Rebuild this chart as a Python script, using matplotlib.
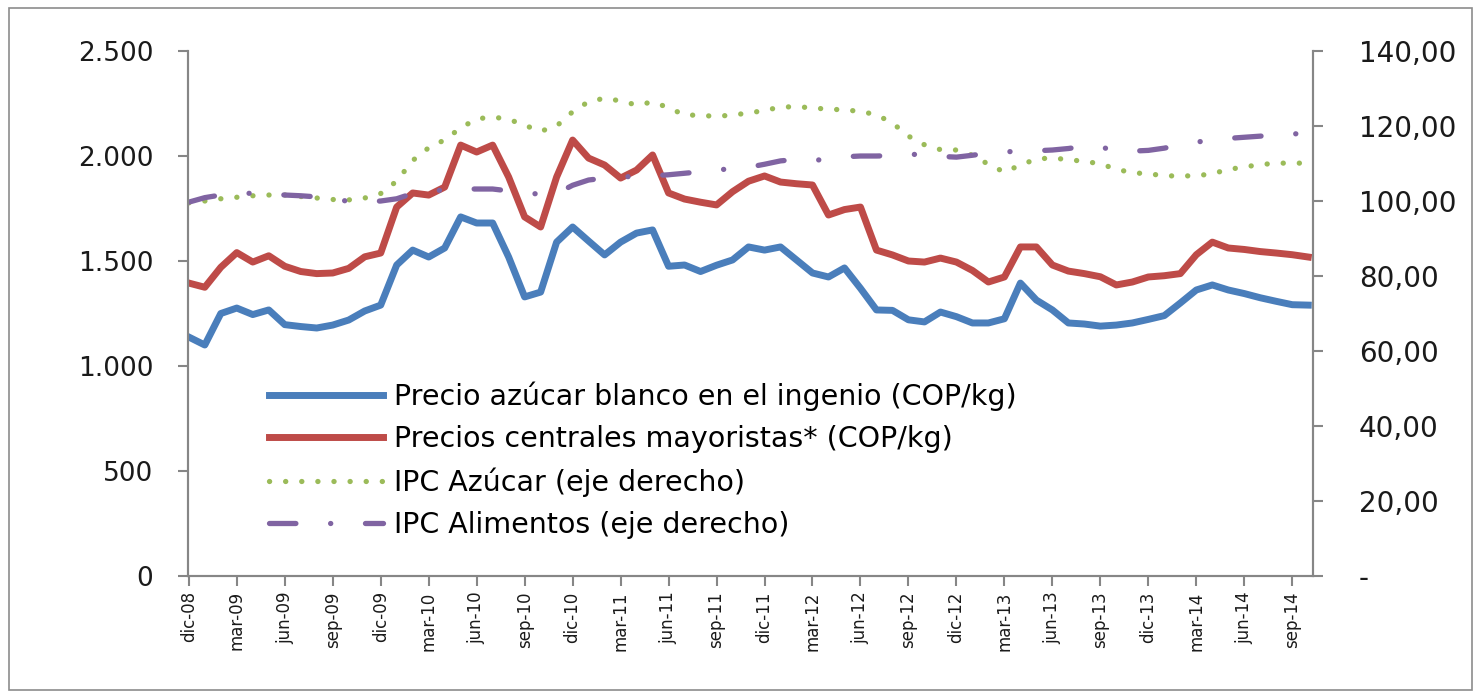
import matplotlib.pyplot as plt
from matplotlib.patches import Rectangle

# monthly series dic-08 .. oct-14
precio_ingenio = [1138, 1100, 1250, 1276, 1245, 1267, 1197, 1188, 1181, 1195, 1219, 1262,
                  1290, 1481, 1552, 1519, 1562, 1710, 1681, 1681, 1519, 1329, 1352, 1590,
                  1662, 1595, 1529, 1590, 1633, 1648, 1475, 1481, 1450, 1480, 1505, 1567,
                  1552, 1567, 1505, 1443, 1424, 1467, 1370, 1267, 1265, 1220, 1210, 1257,
                  1235, 1205, 1205, 1225, 1395, 1314, 1267, 1205, 1200, 1190, 1195, 1205,
                  1222, 1240, 1300, 1362, 1386, 1362, 1345, 1325, 1308, 1292, 1290]
precio_mayoristas = [1395, 1375, 1470, 1540, 1495, 1525, 1475, 1450, 1440, 1443, 1465, 1520,
                     1538, 1757, 1824, 1814, 1852, 2052, 2019, 2052, 1900, 1710, 1662, 1900,
                     2076, 1990, 1957, 1895, 1933, 2005, 1824, 1795, 1780, 1767, 1830, 1880,
                     1905, 1876, 1868, 1862, 1719, 1745, 1757, 1552, 1529, 1500, 1495, 1514,
                     1495, 1455, 1400, 1424, 1567, 1567, 1481, 1452, 1440, 1425, 1386, 1400,
                     1424, 1430, 1440, 1530, 1590, 1562, 1555, 1545, 1538, 1530, 1519]
ipc_azucar = [99.5, 100.0, 100.6, 101.0, 101.4, 101.6, 101.6, 101.2, 100.8, 100.4, 100.3, 100.8,
              102.0, 105.3, 110.8, 114.2, 116.3, 119.5, 121.9, 122.4, 121.8, 120.2, 118.6, 120.0,
              123.8, 126.5, 127.4, 126.7, 125.6, 126.4, 124.9, 122.9, 122.9, 122.5, 123.0, 123.4,
              124.2, 125.0, 125.2, 124.8, 124.5, 124.3, 123.9, 123.0, 120.8, 117.3, 115.0, 113.7,
              113.6, 112.2, 109.8, 107.7, 109.6, 111.2, 111.5, 111.0, 110.6, 109.9, 108.5, 107.5,
              107.3, 106.7, 106.7, 106.7, 107.3, 108.4, 109.1, 109.7, 110.1, 110.1, 110.1]
ipc_alimentos = [99.7, 100.9, 101.6, 101.9, 102.1, 101.9, 101.6, 101.4, 101.1, 100.6, 99.9, 99.8,
                 100.0, 100.6, 102.0, 102.5, 103.0, 103.2, 103.2, 103.2, 102.7, 102.2, 101.8, 102.0,
                 104.2, 105.6, 106.1, 106.4, 106.6, 106.7, 107.0, 107.4, 107.8, 108.3, 108.6, 109.0,
                 109.8, 110.7, 111.1, 110.8, 111.2, 111.8, 112.0, 112.0, 112.1, 112.5, 112.3, 111.9,
                 111.7, 112.2, 112.8, 113.1, 113.3, 113.4, 113.6, 114.0, 114.6, 114.5, 113.2, 113.3,
                 113.5, 114.1, 115.0, 115.7, 116.3, 116.7, 117.0, 117.3, 117.6, 117.9, 118.0]

tick_labels = ['dic-08', 'mar-09', 'jun-09', 'sep-09', 'dic-09', 'mar-10', 'jun-10', 'sep-10',
               'dic-10', 'mar-11', 'jun-11', 'sep-11', 'dic-11', 'mar-12', 'jun-12', 'sep-12',
               'dic-12', 'mar-13', 'jun-13', 'sep-13', 'dic-13', 'mar-14', 'jun-14', 'sep-14']
left_ticks = [0, 500, 1000, 1500, 2000, 2500]
left_labels = ['0', '500', '1.000', '1.500', '2.000', '2.500']
right_ticks = [0, 20, 40, 60, 80, 100, 120, 140]
right_labels = ['-', '20,00', '40,00', '60,00', '80,00', '100,00', '120,00', '140,00']

plt.rcParams['lines.scale_dashes'] = False
grey = '#868686'

fig = plt.figure(figsize=(14.78, 6.94), dpi=100)
fig.patches.append(Rectangle((0.006, 0.006), 0.99, 0.982, transform=fig.transFigure,
                             fill=False, edgecolor='#8c8c8c', linewidth=1.2))
ax = fig.add_axes([0.1272, 0.170, 0.7612, 0.7565])
ax2 = ax.twinx()

x = range(len(precio_ingenio))
l1, = ax.plot(x, precio_ingenio, color='#4A7EBB', lw=5, solid_joinstyle='round',
              label='Precio azúcar blanco en el ingenio (COP/kg)')
l2, = ax.plot(x, precio_mayoristas, color='#BE4B48', lw=5, solid_joinstyle='round',
              label='Precios centrales mayoristas* (COP/kg)')
l3, = ax2.plot(x, ipc_azucar, color='#9BBB59', lw=3.8, linestyle=(0, (0.1, 11.5)),
               dash_capstyle='round', label='IPC Azúcar (eje derecho)')
l4, = ax2.plot(x, ipc_alimentos, color='#8064A2', lw=3.8,
               linestyle=(0, (19, 25, 0.1, 25)), dash_capstyle='round',
               label='IPC Alimentos (eje derecho)')

ax.set_xlim(-0.05, 70.3)
ax.set_ylim(0, 2500)
ax2.set_ylim(0, 140)

ax.set_yticks(left_ticks)
ax.set_yticklabels(left_labels)
ax2.set_yticks(right_ticks)
ax2.set_yticklabels(right_labels)
ax.set_xticks(range(0, 3 * len(tick_labels), 3))
ax.set_xticklabels(tick_labels, rotation=90, fontsize=12)

for a in (ax, ax2):
    a.spines['top'].set_visible(False)
    for s in ('left', 'right', 'bottom'):
        a.spines[s].set_color(grey)
        a.spines[s].set_linewidth(1.5)
    a.tick_params(colors=grey, width=1.5, length=7, labelcolor='#1a1a1a')
ax.tick_params(axis='y', labelsize=19, pad=18)
ax2.tick_params(axis='y', labelsize=20, pad=26)
ax.tick_params(axis='x', pad=4)

ax2.legend(handles=[l1, l2, l3, l4], loc='upper left', bbox_to_anchor=(0.062, 0.392),
           frameon=False, fontsize=20.5, handlelength=4.0, handletextpad=0.4,
           labelspacing=0.5, borderaxespad=0)

fig.savefig('out.png', dpi=100)
